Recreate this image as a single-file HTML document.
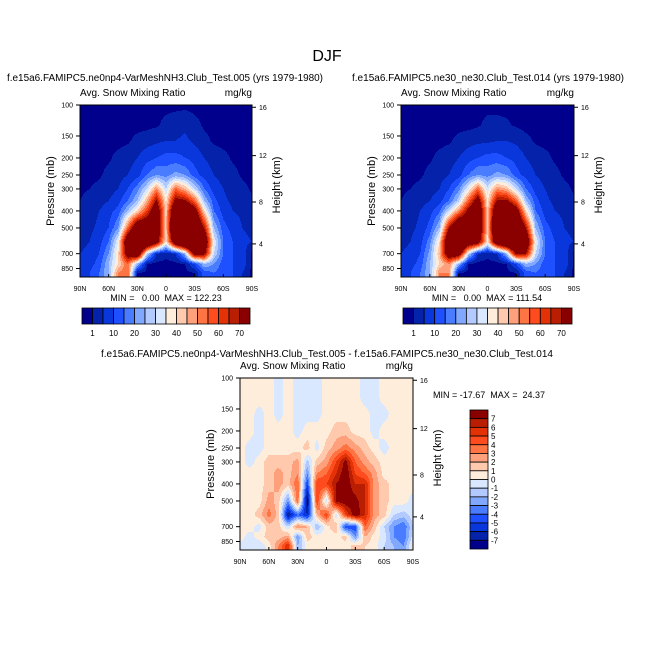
<!DOCTYPE html>
<html><head><meta charset="utf-8"><style>
body{margin:0;background:#fff}
svg{display:block;font-family:"Liberation Sans",Arial,sans-serif}
.pre{white-space:pre}
</style></head><body>
<svg id="root" width="654" height="654" viewBox="0 0 654 654" xmlns="http://www.w3.org/2000/svg">
<rect width="654" height="654" fill="#fff"/>
<text x="327" y="61" font-size="16" text-anchor="middle">DJF</text>
</svg>
<script>
// ---- data ----
const lats = [90,80,70,60,50,40,30,20,10,0,-10,-20,-30,-40,-50,-60,-70,-80,-90];
const pressures = [100,130,160,200,250,300,350,400,500,600,700,800,900];
const snowA = [
[0,0,0,0,0,0,0,0,0,0,0,0,0,0,0,0,0,0,0],
[0,0,0,0,0,0,0,0,0.5,2,3,4,2,0.5,0,0,0,0,0],
[0,0,0,0,0,0.5,2,3,4,5,5,6,4,2,0.5,0,0,0,0],
[0,0,0,0.5,2,3,5,8,10,12,12,10,8,5,3,2,0.5,0,0],
[0,0,0.5,2,3,5,8,15,20,18,22,20,12,8,5,3,2,0.5,0],
[0.5,1,2,3,5,10,18,30,50,30,55,45,30,15,8,5,3,2,0.5],
[1,2,3,5,8,15,25,45,72,38,75,72,55,25,12,6,4,3,1.5],
[2,3,5,8,12,25,40,60,85,42,95,95,80,40,15,8,5,4,3],
[3,4,6,10,20,55,90,90,90,42,110,110,100,70,25,12,8,5,4],
[4,5,8,15,35,90,110,100,80,38,90,110,110,90,35,15,10,6,5],
[5,6,10,20,40,80,90,30,5,2,5,25,80,75,30,15,10,8,0],
[6,8,12,25,40,55,25,1,0,0,0,1,10,25,20,12,10,8,0],
[8,10,15,25,50,55,1,0,0,0,0,0,1,12,15,12,10,5,0]];
const snowB = [
[0,0,0,0,0,0,0,0,0,0,0,0,0,0,0,0,0,0,0],
[0,0,0,0,0,0,0,0,0.5,2,2,1.5,0.5,0,0,0,0,0,0],
[0,0,0,0,0,0.5,2,3,4,4,5,5,4,2,0.5,0,0,0,0],
[0,0,0,0.5,2,3,5,8,10,12,12,10,8,5,3,2,0.5,0,0],
[0,0,0.5,2,3,5,8,15,20,18,22,20,12,8,5,3,2,0.5,0],
[0.5,1,2,3,5,10,18,35,55,32,50,45,30,15,8,5,3,2,0.5],
[1,2,3,5,8,15,28,55,80,38,72,72,55,25,12,6,4,3,1.5],
[2,3,5,8,14,30,50,75,90,42,92,95,80,40,15,8,5,4,3],
[3,4,6,12,25,70,100,85,92,42,105,110,100,70,25,12,8,5,4],
[4,5,8,18,40,95,110,90,80,38,90,105,110,90,35,15,10,6,5],
[5,6,10,22,45,85,85,30,5,2,5,25,75,70,30,15,10,8,0],
[6,8,12,25,40,50,25,1,0,0,0,1,10,25,20,12,10,8,0],
[8,10,15,25,50,50,1,0,0,0,0,0,1,12,15,12,10,5,0]];
const diff = [
[0.5,0.5,0.5,0.5,-0.5,0.5,-0.5,-0.5,-0.5,0.5,0.5,0.5,0.5,-0.5,-0.5,0.5,0.5,0.5,0.5],
[0.5,0.5,0.5,0.5,-0.5,0.5,-0.5,-0.5,-0.5,0.5,0.5,0.5,0.5,-0.5,-0.5,0.5,0.5,0.5,0.5],
[0.5,0.5,-0.5,0.5,-0.5,0.5,-0.5,-0.5,-0.5,0.5,0.5,0.5,0.5,0.5,-0.5,-0.5,0.5,0.5,0.5],
[0.5,0.5,-0.5,0.5,0.5,0.5,-0.5,0.5,0.5,0.5,1.5,1.5,0.5,0.5,-0.5,0.5,0.5,0.5,0.5],
[0.5,-0.5,-0.5,0.5,0.5,0.5,0.5,1.5,-0.5,1.5,2.5,3.5,2.5,1.5,0.5,-0.5,0.5,0.5,0.5],
[0.5,-0.5,0.5,1.5,1.5,1.5,2.5,-1.5,1.5,2.5,5,7.5,4,2.5,1.5,0.5,0.5,0.5,0.5],
[0.5,0.5,0.5,1.5,2.5,1.5,3,-3,3,4,6,8,5,4,2.5,0.5,0.5,0.5,0.5],
[0.5,0.5,0.5,1.5,2.5,1.5,4,-5,5,5,7,8,6,6,2.5,1.5,0.5,0.5,0.5],
[0.5,0.5,0.5,2.5,1.5,-3,4,-8,5,-1,7.5,8,7.5,6,2.5,1.5,0.5,0.5,-0.5],
[0.5,0.5,1.5,3.5,1.5,-7,-4,-6,2,5,-1,5,8,6,2.5,1.5,-1,-1.5,-0.5],
[0.5,0.5,-0.5,1.5,1.5,-1,3,2,-2,0.5,2,-5,-5,4,1.5,-1,-3,-4,-1],
[0.5,-0.5,0.5,1.5,1.5,2.5,-3,1.5,0.5,0.5,0.5,1.5,-3,2,0.5,-0.5,-3,-4,-0.5],
[-0.5,-0.5,-1,0.5,3,6,-2,0.5,0.5,0.5,0.5,0.5,1.5,1,0.5,-1,-2,-3,0.5]];
const snowLevels = [1,5,10,15,20,25,30,35,40,45,50,55,60,65,70];
const snowTickLabels = ["1","10","20","30","40","50","60","70"];
const diffLevels = [-7,-6,-5,-4,-3,-2,-1,0,1,2,3,4,5,6,7];
const diffTickLabels = ["7","6","5","4","3","2","1","0","-1","-2","-3","-4","-5","-6","-7"];
const pTicks = [100,150,200,250,300,400,500,700,850];
const hTicks = [16,12,8,4];
const hTickP = [103,194,356,616];
const latTicks = ["90N","60N","30N","0","30S","60S","90S"];
const latTickVals = [90,60,30,0,-30,-60,-90];
const colors = ["#00008c","#0522aa","#0a37dc","#1f50ff","#4a7cff","#80a8ff","#b2caff","#dae8ff",
"#ffeddc","#ffc9ae","#ffa07c","#ff7443","#ff4c1e","#e23206","#b91d02","#8a0000"];

const NS="http://www.w3.org/2000/svg";
const root=document.getElementById('root');
function mk(tag,attrs,parent){const e=document.createElementNS(NS,tag);for(const k in attrs)e.setAttribute(k,attrs[k]);(parent||root).appendChild(e);return e;}
function txt(x,y,s,size,anchor,parent,extra){const t=mk('text',Object.assign({x:x,y:y,'font-size':size,'text-anchor':anchor||'start'},extra||{}),parent);t.textContent=s;return t;}

const PMAX=950;
function makeY(y0,h){return p=>y0+Math.log(p/100)/Math.log(PMAX/100)*h;}
function makeX(x0,w){return lat=>x0+(90-lat)/180*w;}
function levelIdx(v,levels){let i=0;while(i<levels.length&&v>=levels[i])i++;return i;}
function sample(grid,lat,p){
  const lp=Math.log(p);
  let r=0;while(r<pressures.length-2&&lp>Math.log(pressures[r+1]))r++;
  let ty=(lp-Math.log(pressures[r]))/(Math.log(pressures[r+1])-Math.log(pressures[r]));ty=Math.max(0,Math.min(1,ty));
  let c=Math.min(lats.length-2,Math.floor((90-lat)/10));let tx=((90-lat)-c*10)/10;tx=Math.max(0,Math.min(1,tx));
  const a=grid[r][c]*(1-tx)+grid[r][c+1]*tx,b=grid[r+1][c]*(1-tx)+grid[r+1][c+1]*tx;
  return a*(1-ty)+b*ty;
}

function panel(cfg){
  const {x0,y0,w,h,grid,levels,name}=cfg;
  const g=mk('g',{},root);
  
  
  const X=makeX(x0,w),Y=makeY(y0,h);
  const field=mk('g',{},g);
  
  
  for(let py=0;py<h;py++){
    const p=100*Math.exp((py+0.5)/h*Math.log(PMAX/100));
    let runStart=0,runIdx=-1;
    for(let px=0;px<=w;px++){
      let idx=-2;
      if(px<w){const lat=90-(px+0.5)/w*180;idx=levelIdx(sample(grid,lat,p),levels);}
      if(idx!==runIdx){
        if(runIdx>=0){const r=mk('rect',{x:x0+runStart,y:y0+py,width:px-runStart,height:1.02,fill:colors[runIdx]},field);
          
          }
        runStart=px;runIdx=idx;
      }
    }
  }
  const frame=mk('rect',{x:x0,y:y0,width:w,height:h,fill:'none',stroke:'#000','stroke-width':1},g);
  
  
  pTicks.forEach(p=>{const y=Y(p);mk('line',{x1:x0-4,y1:y,x2:x0,y2:y,stroke:'#000'},g);
    const t=txt(x0-7,y+2.5,String(p),7,'end',g);
    
    });
  hTicks.forEach((hk,i)=>{const y=Y(hTickP[i]);mk('line',{x1:x0+w,y1:y,x2:x0+w+4,y2:y,stroke:'#000'},g);
    const t=txt(x0+w+7,y+2.5,String(hk),7,'start',g);
    
    });
  latTicks.forEach((s,i)=>{const x=X(latTickVals[i]);mk('line',{x1:x,y1:y0+h,x2:x,y2:y0+h-3,stroke:'#000'},g);
    const t=txt(x,y0+h+14,s,7,'middle',g);
    
    });
  const yl=txt(0,0,'Pressure (mb)',11,'middle',g,{transform:`translate(${x0-26},${y0+h/2}) rotate(-90)`});
  
  
  const yr=txt(0,0,'Height (km)',11,'middle',g,{transform:`translate(${x0+w+28},${y0+h/2-6}) rotate(-90)`});
  
  
  const l=txt(x0,y0-9,'Avg. Snow Mixing Ratio',10,'start',g);
  
  
  const u=txt(x0+w,y0-9,'mg/kg',10,'end',g);
  
  
  return g;
}

function hbar(x0,y0,w,h,name){
  const g=mk('g',{},root);
  
  
  const bw=w/colors.length;
  colors.forEach((c,i)=>{const r=mk('rect',{x:x0+i*bw,y:y0,width:bw,height:h,fill:c,stroke:'#000','stroke-width':0.8},g);
    
    });
  snowTickLabels.forEach((s,i)=>{const t=txt(x0+(1+2*i)*bw,y0+h+12,s,8,'middle',g);
    
    });
}

// titles
const t1=txt(165,81,'f.e15a6.FAMIPC5.ne0np4-VarMeshNH3.Club_Test.005 (yrs 1979-1980)',10,'middle',null,{textLength:316,lengthAdjust:'spacingAndGlyphs'});


const t2=txt(488,81,'f.e15a6.FAMIPC5.ne30_ne30.Club_Test.014 (yrs 1979-1980)',10,'middle',null,{textLength:272,lengthAdjust:'spacingAndGlyphs'});


const t3=txt(327,357,'f.e15a6.FAMIPC5.ne0np4-VarMeshNH3.Club_Test.005 - f.e15a6.FAMIPC5.ne30_ne30.Club_Test.014',10,'middle',null,{textLength:452,lengthAdjust:'spacingAndGlyphs'});



panel({x0:80,y0:105,w:172,h:172,grid:snowA,levels:snowLevels,name:'left-panel'});
panel({x0:401,y0:105,w:173,h:172,grid:snowB,levels:snowLevels,name:'right-panel'});
panel({x0:240,y0:378,w:173,h:172,grid:diff,levels:diffLevels,name:'difference-panel'});

const m1=txt(166,301,'MIN =   0.00  MAX = 122.23',9,'middle',null,{'class':'pre'});


const m2=txt(487,301,'MIN =   0.00  MAX = 111.54',9,'middle',null,{'class':'pre'});


const m3=txt(433,398,'MIN = -17.67  MAX =  24.37',9,'start',null,{'class':'pre'});



hbar(82,308,168,16,'left-colorbar');
hbar(403,308,169,16,'right-colorbar');

// vertical colorbar for difference
(function(){
  const g=mk('g',{},root);
  
  
  const x0=470,y0=410,w=18,h=139,bh=h/colors.length;
  colors.slice().reverse().forEach((c,i)=>{const r=mk('rect',{x:x0,y:y0+i*bh,width:w,height:bh,fill:c,stroke:'#000','stroke-width':0.8},g);
    
    });
  diffTickLabels.forEach((s,i)=>{const t=txt(x0+w+3,y0+(i+1)*bh+3,s,8,'start',g);
    
    });
})();
</script>
</body></html>
